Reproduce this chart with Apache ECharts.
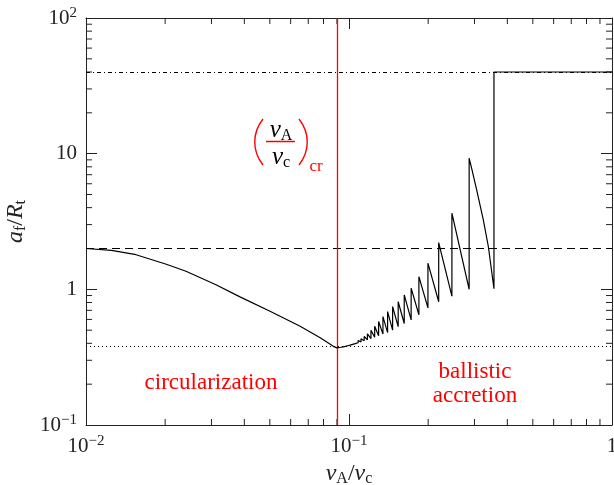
<!DOCTYPE html>
<html lang="en">
<head>
<meta charset="UTF-8">
<title>Document</title>
<script src="https://cdn.jsdelivr.net/npm/echarts@6/dist/echarts.min.js"></script>
<style>
    * { margin: 0; padding: 0; }
    #main { width: 614px; height: 485px; }
</style>
</head>
<body>
<div id="main"></div>
<script>
    // smooth branch (circularization)
    var leftX = [0.01, 0.0125, 0.0155, 0.0202, 0.024, 0.0312, 0.0385, 0.0501, 0.0652, 0.0777, 0.0872, 0.0900];
    var leftY = [2.0, 1.94, 1.80, 1.53, 1.36, 1.08, 0.88, 0.69, 0.535, 0.44, 0.38, 0.370];

    // sawtooth branch: position of each jump, value before and after it
    var toothX = [0.0914, 0.0931, 0.0949, 0.0968, 0.0988, 0.1009, 0.1032, 0.1056, 0.1083, 0.1111,
        0.1142, 0.1175, 0.1212, 0.1252, 0.1296, 0.1346, 0.1402, 0.1465, 0.1538, 0.1622,
        0.1723, 0.1844, 0.1996, 0.2193, 0.2462, 0.2863, 0.3558];
    var toothLow = [0.372, 0.374, 0.377, 0.380, 0.384, 0.388, 0.393, 0.398, 0.404, 0.410,
        0.417, 0.425, 0.434, 0.444, 0.455, 0.468, 0.48, 0.50, 0.531, 0.56,
        0.595, 0.65, 0.73, 0.81, 0.89, 1.0, 1.01];
    var toothHigh = [0.374, 0.377, 0.380, 0.384, 0.388, 0.393, 0.400, 0.410, 0.420, 0.433,
        0.45, 0.47, 0.50, 0.535, 0.58, 0.63, 0.685, 0.746, 0.81, 0.91,
        1.02, 1.24, 1.56, 2.21, 3.64, 9.25, 40];
    // extra points on the bent last tooth
    var bendX = [0.2927, 0.3058, 0.3241, 0.3388];
    var bendY = [7.8, 5.4, 3.25, 2.06];
    var plateauEnd = [1, 40];

    // reference levels
    var levelTop = 40, levelMid = 2, levelLow = 0.38, vCrit = 0.09;

    // minor tick values
    var xMinor = [0.02, 0.03, 0.04, 0.05, 0.06, 0.07, 0.08, 0.09, 0.2, 0.3, 0.4, 0.5, 0.6, 0.7, 0.8, 0.9];
    var yMinor = [0.2, 0.3, 0.4, 0.5, 0.6, 0.7, 0.8, 0.9, 2, 3, 4, 5, 6, 7, 8, 9, 20, 30, 40, 50, 60, 70, 80, 90];

    var curve = [];
    for (var i = 0; i < leftX.length; i++) curve.push([leftX[i], leftY[i]]);
    for (var i = 0; i < toothX.length; i++) {
        curve.push([toothX[i], toothLow[i]]);
        curve.push([toothX[i], toothHigh[i]]);
        var next = i < toothX.length - 1 ? toothX[i + 1] : 1;
        for (var j = 0; j < bendX.length; j++) {
            if (bendX[j] > toothX[i] && bendX[j] < next) curve.push([bendX[j], bendY[j]]);
        }
    }
    curve.push(plateauEnd);

    var serif = '"Liberation Serif", "DejaVu Serif", serif';
    var ink = '#222';
    var red = '#ff0000';

    var tickRich = {
        b: { fontSize: 21, fontFamily: serif, color: ink, lineHeight: 24 },
        sup: { fontSize: 15, fontFamily: serif, color: ink, lineHeight: 15, verticalAlign: 'top' }
    };
    function powLabel(v) {
        var e = Math.round(Math.log10(v));
        if (e === 0) return '{b|1}';
        if (e === 1) return '{b|10}';
        return '{b|10}{sup|' + (e < 0 ? '\u2212' + (-e) : e) + '}';
    }
    function nameRich(size, color) {
        return {
            i: { fontSize: size, fontFamily: serif, fontStyle: 'italic', color: color, lineHeight: size + 2 },
            n: { fontSize: size, fontFamily: serif, color: color, lineHeight: size + 2 },
            s: { fontSize: Math.round(size * 0.65), fontFamily: serif, color: color, lineHeight: Math.round(size * 0.65), verticalAlign: 'bottom' }
        };
    }

    function logAxis(pos, min, max, main) {
        var a = {
            type: 'log',
            logBase: 10,
            position: pos,
            min: min,
            max: max,
            axisLine: { show: true, lineStyle: { color: ink, width: 1 } },
            axisTick: { show: true, inside: true, length: 11, lineStyle: { color: ink, width: 1 } },
            splitLine: { show: false },
            axisLabel: { show: false }
        };
        if (main) {
            a.axisLabel = { show: true, margin: 9, formatter: powLabel, rich: tickRich };
        }
        return a;
    }

    function xTicks(params, api) {
        var cs = params.coordSys;
        var px = api.coord([api.value(0), 1])[0];
        var st = { stroke: ink, lineWidth: 1 };
        return {
            type: 'group',
            children: [
                { type: 'line', shape: { x1: px, y1: cs.y + cs.height, x2: px, y2: cs.y + cs.height - 6 }, style: st },
                { type: 'line', shape: { x1: px, y1: cs.y, x2: px, y2: cs.y + 6 }, style: st }
            ]
        };
    }
    function yTicks(params, api) {
        var cs = params.coordSys;
        var py = api.coord([0.1, api.value(1)])[1];
        var st = { stroke: ink, lineWidth: 1 };
        return {
            type: 'group',
            children: [
                { type: 'line', shape: { x1: cs.x, y1: py, x2: cs.x + 6, y2: py }, style: st },
                { type: 'line', shape: { x1: cs.x + cs.width, y1: py, x2: cs.x + cs.width - 6, y2: py }, style: st }
            ]
        };
    }

    var xMain = logAxis('bottom', 0.01, 1, true);
    xMain.name = '{i|v}{s|A}{n|/}{i|v}{s|c}';
    xMain.nameLocation = 'middle';
    xMain.nameGap = 25;
    xMain.nameTextStyle = { rich: nameRich(24, ink) };
    var yMain = logAxis('left', 0.1, 100, true);
    yMain.name = '{i|a}{s|f}{n|/}{i|R}{s|t}';
    yMain.nameLocation = 'middle';
    yMain.nameGap = 56;
    yMain.nameTextStyle = { rich: nameRich(24, ink) };

    var redLabel = { font: '23px ' + serif, fill: red, align: 'center', verticalAlign: 'middle', textAlign: 'center', textVerticalAlign: 'middle' };
    function redText(x, y, txt) {
        return { type: 'text', x: x, y: y, style: Object.assign({ text: txt }, redLabel) };
    }
    function fracPart(y, txt) {
        return {
            type: 'text', x: 281, y: y,
            style: {
                text: txt, align: 'center', verticalAlign: 'middle', textAlign: 'center', textVerticalAlign: 'middle',
                rich: nameRich(25, red)
            }
        };
    }

    var chart = echarts.init(document.getElementById('main'));
    chart.setOption({
        animation: false,
        backgroundColor: '#fff',
        grid: { left: 86, right: 2, top: 18, bottom: 60, outerBoundsMode: 'none' },
        xAxis: [xMain, logAxis('top', 0.01, 1, false)],
        yAxis: [yMain, logAxis('right', 0.1, 100, false)],
        series: [
            {
                type: 'line',
                data: curve,
                showSymbol: false,
                symbol: 'none',
                lineStyle: { color: '#000', width: 1.2 },
                z: 5,
                markLine: {
                    silent: true,
                    symbol: 'none',
                    label: { show: false },
                    data: [
                        { yAxis: levelTop, lineStyle: { color: '#000', width: 1, type: [4, 3, 1, 3] } },
                        { yAxis: levelMid, lineStyle: { color: '#000', width: 1, type: [8, 5] } },
                        { yAxis: levelLow, lineStyle: { color: '#000', width: 1, type: [1, 3] } }
                    ]
                }
            },
            {
                // critical velocity marker
                type: 'line',
                data: [],
                z: 6,
                markLine: {
                    silent: true,
                    symbol: 'none',
                    label: { show: false },
                    lineStyle: { color: red, width: 1.3, type: 'solid', opacity: 1 },
                    data: [{ xAxis: vCrit }]
                }
            },
            {
                type: 'custom',
                silent: true,
                clip: false,
                data: xMinor.map(function (v) { return [v, 1]; }),
                renderItem: xTicks
            },
            {
                type: 'custom',
                silent: true,
                clip: false,
                data: yMinor.map(function (v) { return [0.1, v]; }),
                renderItem: yTicks
            }
        ],
        graphic: [
            redText(211, 383, 'circularization'),
            redText(475, 372, 'ballistic'),
            redText(475, 396, 'accretion'),
            { type: 'bezierCurve', shape: { x1: 263, y1: 119, cpx1: 252, cpy1: 133, cpx2: 252, cpy2: 151, x2: 263, y2: 165 }, style: { stroke: red, lineWidth: 1.4, fill: null } },
            { type: 'bezierCurve', shape: { x1: 299, y1: 119, cpx1: 310, cpy1: 133, cpx2: 310, cpy2: 151, x2: 299, y2: 165 }, style: { stroke: red, lineWidth: 1.4, fill: null } },
            fracPart(130, '{i|v}{s|A}'),
            { type: 'line', shape: { x1: 266, y1: 141.5, x2: 295, y2: 141.5 }, style: { stroke: red, lineWidth: 1.5 } },
            fracPart(157, '{i|v}{s|c}'),
            { type: 'text', x: 316, y: 167, style: Object.assign({ text: 'cr' }, redLabel, { font: '17px ' + serif }) }
        ]
    });
</script>
</body>
</html>
